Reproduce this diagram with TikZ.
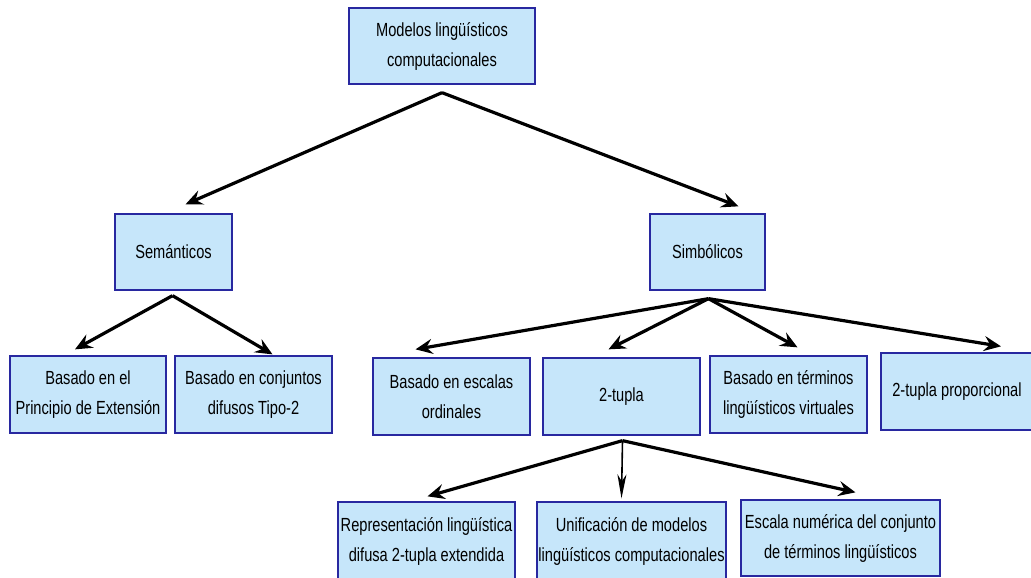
\documentclass[tikz,border=0pt]{standalone}
\usepackage{fontspec}
\setmainfont{Liberation Sans}[FakeStretch=0.77]
\usetikzlibrary{arrows.meta,calc}
\definecolor{boxfill}{RGB}{198,230,250}
\definecolor{boxline}{RGB}{40,40,160}
\begin{document}
\begin{tikzpicture}[x=1pt,y=-1pt,
  box/.style={draw=boxline,fill=boxfill,line width=1.3pt,align=center,inner sep=0pt,
    font=\fontsize{19}{30}\selectfont},
  arr/.style={line width=3.2pt,-{Stealth[length=17pt,width=15pt,inset=6pt]}},
  thin arr/.style={line width=1.6pt,-{Stealth[length=24pt,width=9pt,inset=7pt]}}]
\useasboundingbox (0,0) rectangle (1031,578);
\node[box,minimum width=186pt,minimum height=76pt] (top) at (442,46) {Modelos lingüísticos\\computacionales};
\node[box,minimum width=117pt,minimum height=76pt] (sem) at (173.5,252) {Semánticos};
\node[box,minimum width=115pt,minimum height=76pt] (sim) at (707.5,252) {Simbólicos};
\node[box,minimum width=156pt,minimum height=77pt] (pe) at (88,394.5) {Basado en el\\Principio de Extensión};
\node[box,minimum width=157pt,minimum height=77pt] (cd) at (253.5,394.5) {Basado en conjuntos\\difusos Tipo-2};
\node[box,minimum width=157pt,minimum height=77pt] (eo) at (451.5,396.5) {Basado en escalas\\ordinales};
\node[box,minimum width=157pt,minimum height=77pt] (tu) at (621.5,396.5) {2-tupla};
\node[box,minimum width=157pt,minimum height=77pt] (tv) at (788.5,394.5) {Basado en términos\\lingüísticos virtuales};
\node[box,minimum width=152pt,minimum height=77pt] (tp) at (957,391.5) {2-tupla proporcional};
\node[box,minimum width=177pt,minimum height=78pt] (re) at (426.5,541) {Representación lingüística\\difusa 2-tupla extendida};
\node[box,minimum width=189pt,minimum height=78pt] (un) at (631.5,541) {Unificación de modelos\\lingüísticos computacionales};
\node[box,minimum width=199pt,minimum height=76pt] (es) at (840.5,538) {Escala numérica del conjunto\\de términos lingüísticos};
% arrows
\draw[arr] ($(top.south)+(0,8)$) -- ($(sem.north)+(12,-9)$);
\draw[arr] ($(top.south)+(0,8)$) -- ($(sim.north)+(31,-7)$);
\draw[arr] ($(sem.south)+(-1,5)$) -- ($(pe.north)+(-13,-6)$);
\draw[arr] ($(sem.south)+(-1,5)$) -- ($(cd.north)+(19,-1)$);
\draw[arr] ($(sim.south)+(1,8)$) -- ($(eo.north)+(-36,-8)$);
\draw[arr] ($(sim.south)+(1,8)$) -- ($(tu.north)+(-13,-8)$);
\draw[arr] ($(sim.south)+(1,8)$) -- ($(tv.north)+(9,-8)$);
\draw[arr] ($(sim.south)+(1,8)$) -- ($(tp.north)+(44,-6)$);
\draw[arr] ($(tu.south)+(1,5)$) -- ($(re.north)+(1,-5)$);
\draw[thin arr] ($(tu.south)+(1,5)$) -- ($(un.north)+(-10,-3)$);
\draw[arr] ($(tu.south)+(1,5)$) -- ($(es.north)+(15,-7)$);
\end{tikzpicture}
\end{document}
